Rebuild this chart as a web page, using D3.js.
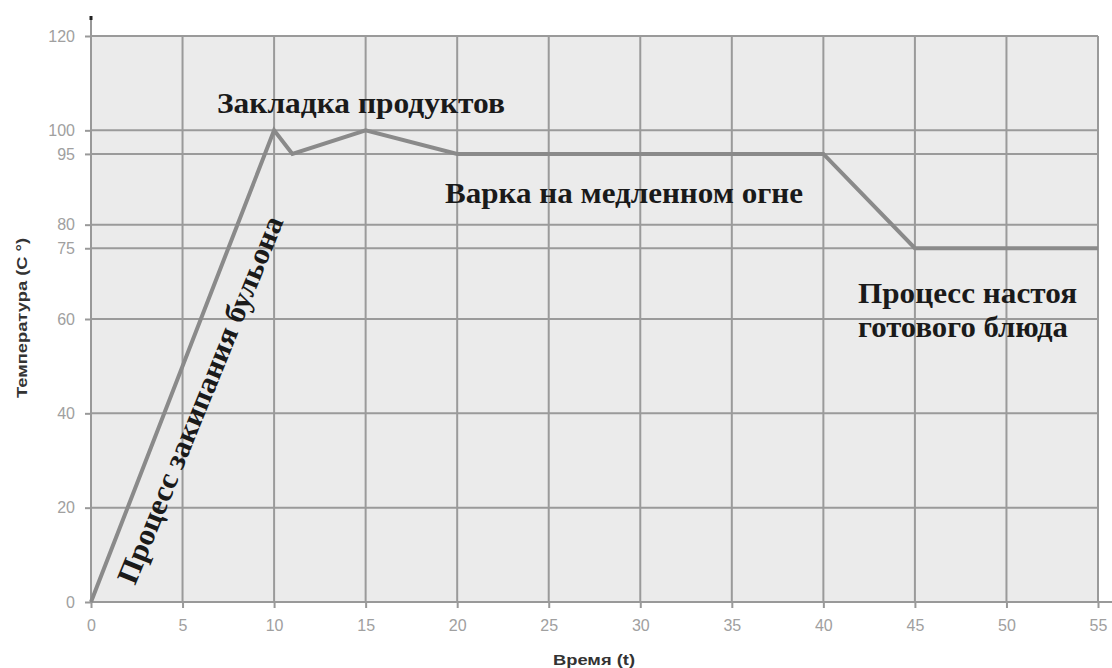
<!DOCTYPE html>
<html><head><meta charset="utf-8">
<script src="https://cdn.jsdelivr.net/npm/d3@7/dist/d3.min.js"></script>
<style>body{margin:0;background:#fff}svg{display:block}</style>
</head><body>
<svg id="c" width="1112" height="668"></svg>
<script>
const times = [0, 10, 11, 15, 20, 40, 45, 55];
const temps = [0, 100, 95, 100, 95, 95, 75, 75];
const xTicks = [0, 5, 10, 15, 20, 25, 30, 35, 40, 45, 50, 55];
const yTicks = [0, 20, 40, 60, 75, 80, 95, 100, 120];
const xTitle = "Время (t)";
const yTitle = "Температура (C °)";

const svg = d3.select("#c");
const m = {l: 91, r: 1098, t: 36, b: 602};
const x = d3.scaleLinear().domain([0, 55]).range([m.l, m.r]);
const y = d3.scaleLinear().domain([0, 120]).range([m.b, m.t]);

// background
svg.append("rect").attr("x", m.l).attr("y", m.t).attr("width", m.r - m.l).attr("height", m.b - m.t).attr("fill", "#ebebeb");

// grid
svg.append("g").selectAll("line").data(xTicks).join("line")
  .attr("x1", d => x(d)).attr("x2", d => x(d)).attr("y1", m.t).attr("y2", m.b)
  .attr("stroke", "#9a9a9a").attr("stroke-width", 2);
svg.append("g").selectAll("line").data(yTicks).join("line")
  .attr("x1", m.l).attr("x2", m.r).attr("y1", d => y(d)).attr("y2", d => y(d))
  .attr("stroke", "#9a9a9a").attr("stroke-width", 2);

// axes
const yAxis = svg.append("g").attr("transform", `translate(${m.l},0)`)
  .call(d3.axisLeft(y).tickValues(yTicks).tickSize(6).tickPadding(10));
const xAxis = svg.append("g").attr("transform", `translate(0,${m.b})`)
  .call(d3.axisBottom(x).tickValues(xTicks).tickSize(6).tickPadding(12));
[yAxis, xAxis].forEach(a => {
  a.select(".domain").remove();
  a.selectAll(".tick line").attr("stroke", "#999").attr("stroke-width", 2);
  a.selectAll(".tick text").attr("fill", "#a0a0a0").style("font-family", "Liberation Sans, Arial, sans-serif").style("font-size", "16px");
});
// axis lines
svg.append("line").attr("x1", m.l).attr("x2", m.l).attr("y1", 17).attr("y2", m.b)
  .attr("stroke", "#999").attr("stroke-width", 2);
svg.append("line").attr("x1", m.l).attr("x2", m.l).attr("y1", 16).attr("y2", 20)
  .attr("stroke", "#222").attr("stroke-width", 3);
svg.append("line").attr("x1", m.l).attr("x2", 1112).attr("y1", m.b).attr("y2", m.b)
  .attr("stroke", "#999").attr("stroke-width", 2);

// line
const pts = times.map((t, i) => [t, temps[i]]);
svg.append("path").datum(pts)
  .attr("d", d3.line().x(d => x(d[0])).y(d => y(d[1])))
  .attr("fill", "none").attr("stroke", "#8a8a8a").attr("stroke-width", 4).attr("stroke-linejoin", "miter");

// titles
svg.append("text").attr("x", 594).attr("y", 665).attr("text-anchor", "middle")
  .attr("textLength", 82).attr("lengthAdjust", "spacingAndGlyphs")
  .style("font-family", "Liberation Sans, Arial, sans-serif").style("font-size", "14px").style("font-weight", "bold")
  .attr("fill", "#333").text(xTitle);
svg.append("text").attr("transform", "translate(27,318) rotate(-90)").attr("text-anchor", "middle")
  .attr("textLength", 160).attr("lengthAdjust", "spacingAndGlyphs")
  .style("font-family", "Liberation Sans, Arial, sans-serif").style("font-size", "14px").style("font-weight", "bold")
  .attr("fill", "#333").text(yTitle);

// annotations
const serif = "Liberation Serif, Times New Roman, serif";
function ann(txt, xx, yy, len, rot) {
  return svg.append("text")
    .attr("transform", `translate(${xx},${yy})` + (rot ? ` rotate(${rot})` : ""))
    .attr("textLength", len).attr("lengthAdjust", "spacingAndGlyphs")
    .style("font-family", serif).style("font-size", "30px").style("font-weight", "bold")
    .attr("fill", "#1a1a1a").text(txt);
}
ann("Закладка продуктов", 217, 113, 288);
ann("Варка на медленном огне", 445, 203, 358);
ann("Процесс настоя", 858, 303, 219);
ann("готового блюда", 858, 337, 210);
ann("Процесс закипания бульона", 135, 586, 394, -67.8);
</script>
</body></html>
